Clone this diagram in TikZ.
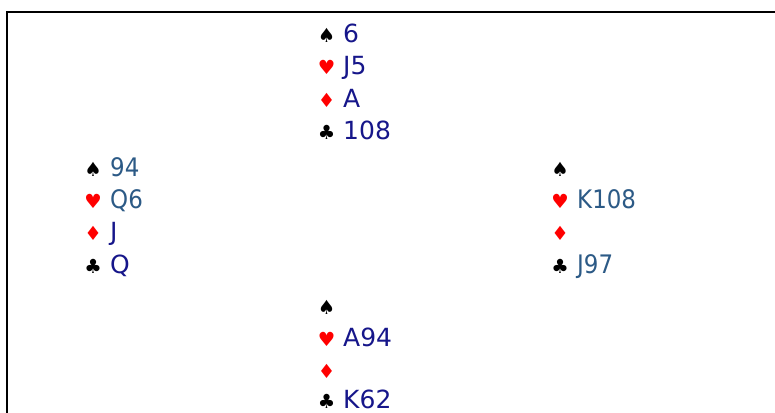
\documentclass[tikz,border=0pt]{standalone}
\usepackage{fontspec}
\setmainfont{DejaVu Sans}
\newfontfamily\condfont{DejaVu Sans Condensed}
\definecolor{navytext}{HTML}{16168A}
\definecolor{tealtext}{HTML}{2C5A86}
\definecolor{suitred}{HTML}{FF0000}
\tikzset{
  suit/.style={anchor=base, inner sep=0pt, font=\fontsize{19.5bp}{22bp}\selectfont},
  blacksuit/.style={suit, text=black},
  redsuit/.style={suit, text=suitred},
  navy/.style={anchor=base west, inner sep=0pt, text=navytext, font=\fontsize{25bp}{30bp}\selectfont},
  teal/.style={anchor=base west, inner sep=0pt, text=tealtext, font=\fontsize{25.5bp}{30bp}\condfont},
  frameline/.style={line width=2.4bp, draw=black}
}
\begin{document}
\begin{tikzpicture}[x=1bp,y=-1bp]
\useasboundingbox (0,0) rectangle (775,412);
\coordinate (fbl) at (7,413);
\coordinate (ftl) at (7,12);
\coordinate (ftr) at (776,12);
\draw[frameline] (fbl) -- (ftl) -- (ftr);
% North
\node[blacksuit] (ns) at (326.5,42) {♠};
\node[navy] (nst) at (343,42) {6};
\node[redsuit] (nh) at (326.5,74.5) {♥};
\node[navy] (nht) at (343,74.5) {J5};
\node[redsuit] (nd) at (326.5,107) {♦};
\node[navy] (ndt) at (343,107) {A};
\node[blacksuit] (nc) at (326.5,139.5) {♣};
\node[navy] (nct) at (343,139.5) {108};
% West
\node[blacksuit] (ws) at (93,176) {♠};
\node[teal] (wst) at (110,176) {94};
\node[redsuit] (wh) at (93,208) {♥};
\node[teal] (wht) at (110,208) {Q6};
\node[redsuit] (wd) at (93,240.5) {♦};
\node[navy] (wdt) at (110,240.5) {J};
\node[blacksuit] (wc) at (93,273) {♣};
\node[navy] (wct) at (110,273) {Q};
% East
\node[blacksuit] (es) at (560,176) {♠};
\node[redsuit] (eh) at (560,208) {♥};
\node[teal] (eht) at (577,208) {K108};
\node[redsuit] (ed) at (560,240.5) {♦};
\node[blacksuit] (ec) at (560,273) {♣};
\node[teal] (ect) at (577,273) {J97};
% South
\node[blacksuit] (ss) at (326.5,314.5) {♠};
\node[redsuit] (sh) at (326.5,346.5) {♥};
\node[navy] (sht) at (343,346.5) {A94};
\node[redsuit] (sd) at (326.5,378) {♦};
\node[blacksuit] (sc) at (326.5,408.5) {♣};
\node[navy] (sct) at (343,408.5) {K62};
\end{tikzpicture}
\end{document}
